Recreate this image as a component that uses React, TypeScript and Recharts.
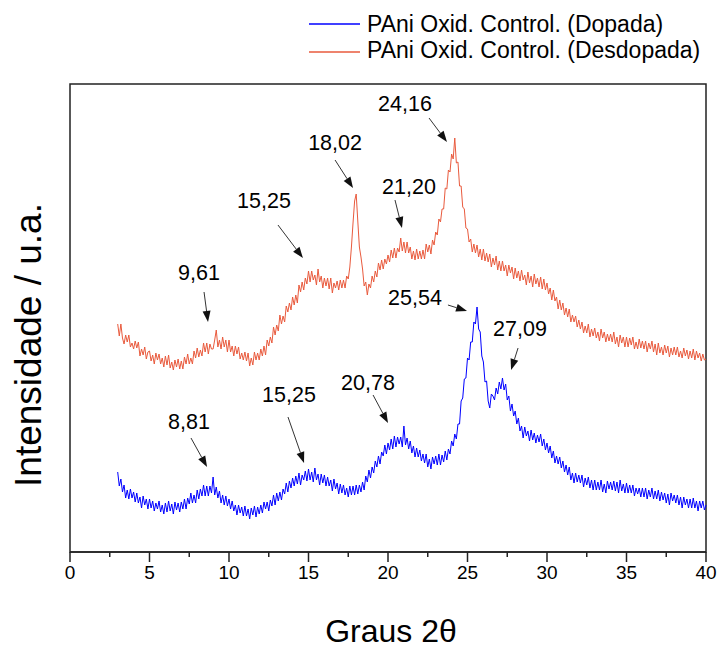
import React from 'react';
import {
  LineChart,
  Line,
  XAxis,
  YAxis,
  ReferenceArea,
  ReferenceLine,
  ReferenceDot,
  Legend,
} from 'recharts';

// 2θ grid of the diffractogram (3.0° ... 40.0°, step 0.1°)
const twoTheta = Array.from({ length: 371 }, (_, i) => Math.round((3 + i * 0.1) * 10) / 10);

// intensities (arbitrary units), one row per degree
const dopada = [
  80, 66, 73, 60, 67, 54, 62, 53, 63, 54,
  60, 50, 59, 49, 55, 44, 56, 47, 53, 43,
  53, 44, 51, 41, 49, 43, 51, 40, 47, 38,
  49, 40, 51, 41, 48, 38, 50, 42, 49, 40,
  50, 43, 53, 43, 54, 48, 59, 49, 57, 49,
  62, 53, 63, 56, 67, 56, 66, 56, 66, 59,
  75, 57, 65, 54, 61, 49, 57, 47, 56, 46,
  53, 43, 51, 41, 47, 37, 47, 39, 45, 36,
  46, 36, 43, 33, 44, 37, 46, 35, 45, 38,
  47, 39, 50, 43, 50, 41, 52, 46, 57, 47,
  59, 51, 60, 52, 63, 58, 69, 60, 71, 64,
  74, 66, 76, 68, 79, 67, 77, 72, 81, 71,
  83, 72, 80, 70, 84, 72, 78, 67, 78, 69,
  77, 66, 75, 66, 72, 61, 73, 63, 69, 58,
  68, 59, 67, 57, 64, 55, 66, 57, 66, 57,
  67, 58, 67, 60, 70, 62, 76, 70, 82, 74,
  85, 79, 91, 85, 96, 88, 100, 96, 107, 98,
  109, 102, 113, 103, 116, 105, 115, 108, 115, 105,
  126, 107, 114, 103, 111, 99, 106, 95, 104, 95,
  102, 91, 98, 89, 98, 85, 93, 83, 95, 88,
  96, 87, 98, 87, 97, 90, 101, 92, 103, 98,
  111, 106, 118, 113, 128, 128, 151, 154, 173, 174,
  194, 192, 210, 210, 230, 228, 245, 223, 220, 196,
  190, 170, 171, 151, 144, 158, 156, 152, 164, 158,
  170, 163, 174, 162, 168, 152, 156, 141, 148, 136,
  141, 128, 134, 121, 126, 114, 125, 116, 121, 111,
  122, 112, 119, 109, 117, 110, 118, 106, 113, 102,
  109, 99, 106, 94, 101, 89, 96, 88, 95, 84,
  91, 80, 87, 77, 85, 72, 79, 69, 79, 70,
  77, 69, 77, 65, 74, 67, 75, 64, 72, 62,
  72, 62, 70, 62, 72, 60, 68, 59, 71, 63,
  70, 62, 71, 61, 70, 59, 72, 61, 68, 59,
  69, 59, 67, 59, 67, 56, 64, 58, 64, 55,
  64, 55, 64, 53, 62, 55, 64, 53, 61, 53,
  62, 51, 60, 52, 59, 49, 58, 47, 59, 51,
  57, 49, 57, 47, 55, 44, 55, 47, 53, 44,
  53, 44, 54, 44, 51, 41, 51, 44, 51, 42,
  47,
];

const desdopada = [
  228, 216, 228, 214, 208, 217, 210, 217, 205, 209,
  203, 211, 204, 210, 196, 203, 197, 205, 193, 200,
  201, 191, 197, 188, 199, 192, 198, 188, 194, 185,
  196, 187, 197, 184, 190, 182, 192, 185, 193, 183,
  191, 183, 195, 188, 198, 188, 194, 188, 201, 194,
  204, 195, 202, 196, 209, 200, 209, 198, 208, 203,
  203, 212, 222, 205, 212, 203, 215, 205, 212, 200,
  212, 200, 206, 196, 206, 198, 205, 193, 199, 192,
  200, 191, 199, 186, 194, 187, 200, 192, 199, 192,
  203, 196, 206, 197, 212, 206, 215, 209, 225, 217,
  227, 221, 237, 228, 236, 230, 246, 240, 249, 242,
  255, 247, 257, 249, 267, 260, 270, 262, 274, 268,
  281, 270, 281, 272, 277, 267, 283, 270, 276, 264,
  274, 266, 274, 263, 274, 259, 269, 264, 271, 262,
  272, 264, 272, 264, 276, 273, 285, 305, 329, 351,
  358, 331, 305, 295, 283, 266, 270, 257, 268, 264,
  276, 270, 281, 275, 289, 282, 292, 283, 293, 288,
  297, 290, 302, 294, 304, 294, 304, 300, 314, 301,
  310, 299, 310, 299, 305, 293, 301, 292, 303, 293,
  301, 293, 302, 293, 308, 300, 307, 298, 312, 307,
  320, 317, 333, 330, 343, 343, 364, 363, 382, 380,
  398, 393, 414, 389, 390, 366, 366, 345, 343, 324,
  323, 310, 313, 300, 308, 299, 307, 295, 303, 292,
  303, 291, 299, 290, 298, 285, 294, 287, 296, 282,
  291, 281, 291, 281, 287, 276, 287, 279, 285, 273,
  284, 274, 281, 271, 282, 272, 277, 267, 280, 269,
  276, 265, 278, 268, 274, 265, 275, 263, 273, 262,
  269, 258, 264, 252, 262, 251, 255, 243, 252, 242,
  249, 237, 244, 235, 243, 230, 237, 230, 236, 225,
  232, 223, 230, 219, 226, 219, 228, 215, 223, 216,
  224, 214, 220, 211, 223, 214, 220, 210, 218, 211,
  218, 210, 220, 208, 215, 205, 217, 209, 215, 205,
  215, 205, 214, 207, 215, 203, 210, 203, 213, 204,
  211, 203, 211, 200, 209, 203, 211, 200, 208, 197,
  209, 199, 205, 197, 207, 199, 206, 195, 204, 197,
  205, 197, 205, 195, 201, 194, 204, 196, 202, 193,
  201, 194, 203, 192, 201, 194, 199, 191, 198, 192,
  193,
];

const xTicks = [0, 2.5, 5, 7.5, 10, 12.5, 15, 17.5, 20, 22.5, 25, 27.5, 30, 32.5, 35, 37.5, 40];

// peak labels: text anchor (tx, ty) and arrow from (x1, y1) to (x2, y2), in data units
const peakLabels = [
  { text: '9,61', tx: 8.11, ty: 279, x1: 8.43, y1: 260, x2: 8.68, y2: 230 },
  { text: '15,25', tx: 12.2, ty: 351, x1: 13.08, y1: 327, x2: 14.65, y2: 294 },
  { text: '18,02', tx: 16.67, ty: 409, x1: 16.67, y1: 392, x2: 17.8, y2: 364 },
  { text: '21,20', tx: 21.32, ty: 365, x1: 20.44, y1: 352, x2: 20.88, y2: 324 },
  { text: '24,16', tx: 21.07, ty: 448, x1: 22.58, y1: 434, x2: 23.71, y2: 410 },
  { text: '25,54', tx: 21.7, ty: 254, x1: 23.77, y1: 247, x2: 24.97, y2: 241 },
  { text: '27,09', tx: 28.3, ty: 223, x1: 28.18, y1: 204, x2: 27.74, y2: 182 },
  { text: '8,81', tx: 7.48, ty: 130, x1: 7.61, y1: 114, x2: 8.62, y2: 85 },
  { text: '15,25', tx: 13.77, ty: 157, x1: 13.71, y1: 135, x2: 14.72, y2: 89 },
  { text: '20,78', tx: 18.74, ty: 169, x1: 19.06, y1: 157, x2: 20.0, y2: 129 },
];

const data = twoTheta.map((t, i) => ({ t, dopada: dopada[i], desdopada: desdopada[i] }));

const FONT = '"Liberation Sans", Arial, sans-serif';

const XTick = ({ x, y, payload }: any) => {
  const major = payload.value % 5 === 0;
  return (
    <g>
      <line x1={x} x2={x} y1={y} y2={y + (major ? 10 : 5)} stroke="#222" strokeWidth={1.5} />
      {major && (
        <text x={x} y={y + 27} textAnchor="middle" fontSize={19} fill="#000" fontFamily={FONT}>
          {payload.value}
        </text>
      )}
    </g>
  );
};

const XTitle = ({ viewBox }: any) => (
  <text x={viewBox.x + viewBox.width / 2 + 3} y={642} textAnchor="middle" fontSize={32} fill="#000" fontFamily={FONT}>
    Graus 2θ
  </text>
);

const YTitle = ({ viewBox }: any) => {
  const cx = 28;
  const cy = viewBox.y + viewBox.height / 2 + 27;
  return (
    <text
      x={cx}
      y={cy}
      transform={`rotate(-90 ${cx} ${cy})`}
      textAnchor="middle"
      dominantBaseline="central"
      fontSize={37}
      fill="#000"
      fontFamily={FONT}
    >
      Intensidade / u.a.
    </text>
  );
};

const Arrow = ({ x1, y1, x2, y2 }: any) => {
  const a = Math.atan2(y2 - y1, x2 - x1);
  const len = 11;
  const w = 4;
  const bx = x2 - len * Math.cos(a);
  const by = y2 - len * Math.sin(a);
  const px = -Math.sin(a) * w;
  const py = Math.cos(a) * w;
  return (
    <g>
      <line x1={x1} y1={y1} x2={bx} y2={by} stroke="#333" strokeWidth={1} />
      <polygon points={`${x2},${y2} ${bx + px},${by + py} ${bx - px},${by - py}`} fill="#111" />
    </g>
  );
};

const LegendBox = () => (
  <svg width={724} height={70} style={{ display: 'block' }}>
    <line x1={309} x2={360} y1={24} y2={24} stroke="#0000FF" strokeWidth={1.5} />
    <text x={367} y={32} fontSize={23} fill="#000" fontFamily={FONT}>
      PAni Oxid. Control. (Dopada)
    </text>
    <line x1={309} x2={360} y1={52} y2={52} stroke="#E95A3D" strokeWidth={1.5} />
    <text x={367} y={58} fontSize={23} fill="#000" fontFamily={FONT}>
      PAni Oxid. Control. (Desdopada)
    </text>
  </svg>
);

export default function App() {
  return (
    <div style={{ position: 'absolute', left: 0, top: 0, width: 724, height: 649, background: '#fff', fontFamily: FONT }}>
      <LineChart width={724} height={649} data={data} margin={{ top: 84, right: 18, bottom: 3, left: 0 }}>
        <Legend
          layout="vertical"
          align="center"
          verticalAlign="middle"
          wrapperStyle={{ position: 'absolute', top: 0, left: 0, width: 724, height: 70 }}
          content={() => <LegendBox />}
        />
        <XAxis
          dataKey="t"
          type="number"
          domain={[0, 40]}
          ticks={xTicks}
          interval={0}
          tickSize={0}
          tickMargin={0}
          tickLine={false}
          tick={(p: any) => <XTick {...p} />}
          axisLine={{ stroke: '#222', strokeWidth: 1.5 }}
          height={94}
          label={<XTitle />}
        />
        <YAxis
          type="number"
          domain={[0, 468]}
          width={70}
          axisLine={false}
          tickLine={false}
          tick={false}
          label={<YTitle />}
        />
        <ReferenceArea x1={0} x2={40} y1={0} y2={468} fill="none" stroke="#222" strokeWidth={1.5} ifOverflow="visible" />
        <Line type="linear" dataKey="desdopada" stroke="#E95A3D" strokeWidth={1} dot={false} isAnimationActive={false} />
        <Line type="linear" dataKey="dopada" stroke="#0000FF" strokeWidth={1} dot={false} isAnimationActive={false} />
        {peakLabels.map((p, i) => (
          <ReferenceLine
            key={`arrow-${i}`}
            segment={[{ x: p.x1, y: p.y1 }, { x: p.x2, y: p.y2 }]}
            shape={(props: any) => <Arrow {...props} />}
          />
        ))}
        {peakLabels.map((p, i) => (
          <ReferenceDot
            key={`label-${i}`}
            x={p.tx}
            y={p.ty}
            r={0}
            shape={(props: any) => (
              <text
                x={props.cx}
                y={props.cy}
                textAnchor="middle"
                dominantBaseline="central"
                fontSize={21.5}
                fill="#000"
                fontFamily={FONT}
              >
                {p.text}
              </text>
            )}
          />
        ))}
      </LineChart>
    </div>
  );
}
